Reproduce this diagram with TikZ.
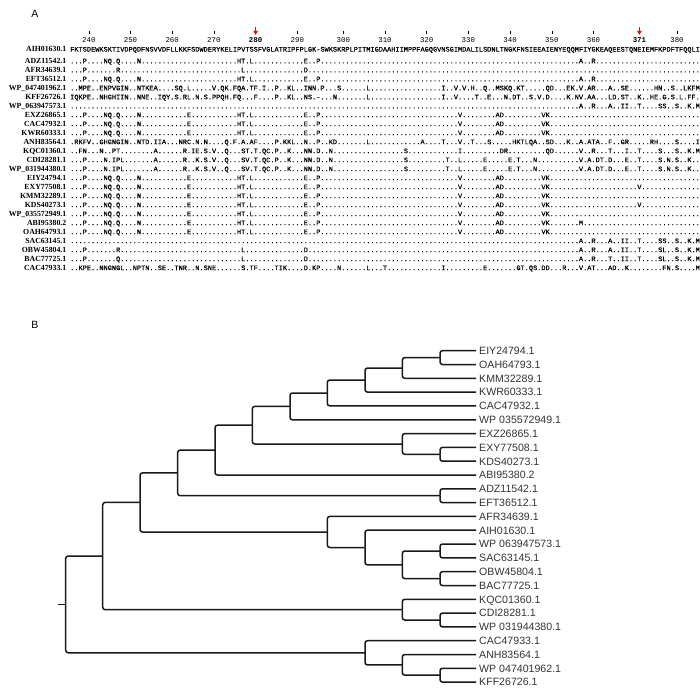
\documentclass[tikz,border=0pt]{standalone}
\usepackage{fontspec}
\setmainfont{Liberation Serif}
\setsansfont{Liberation Sans}
\setmonofont{Liberation Mono}
\newfontfamily\seqfont{Liberation Mono}[FakeBold=0.4]
\usetikzlibrary{arrows.meta}
\newcommand{\dten}{..........}

\begin{document}
\begin{tikzpicture}[x=1pt, y=-1pt,
  panel/.style={font=\fontsize{10.5}{12}\selectfont\sffamily},
  seqname/.style={anchor=base east, inner sep=0pt, font=\fontsize{7.8}{8}\selectfont\bfseries},
  seqrow/.style={anchor=base west, inner sep=0pt, font=\fontsize{6.95}{7}\selectfont\seqfont},
  posnum/.style={anchor=base, inner sep=0pt, font=\fontsize{7.4}{8}\selectfont\ttfamily},
  boldnum/.style={anchor=base, inner sep=0pt, font=\fontsize{7.4}{8}\selectfont\ttfamily\bfseries},
  postick/.style={line width=0.5pt},
  hitmark/.style={red, line width=0.9pt, -{Triangle[width=4.5pt,length=4pt]}},
  branch/.style={line width=1.5pt, black!90, rounded corners=2.5pt},
  leaf/.style={anchor=west, inner xsep=3pt, inner ysep=0pt, text height=7.6pt, text depth=0pt,
    font=\fontsize{10.6}{11}\selectfont\sffamily, text=black!80},
]
\useasboundingbox (0,0) rectangle (700,696);

% panel A: alignment
\node[panel] (pa) at (35,13.5) {A};

\foreach \c/\n in {88.8/240, 130.5/250, 172.2/260, 213.9/270, 297.3/290, 343.3/300, 385.0/310,
                   426.7/320, 468.4/330, 510.1/340, 551.8/350, 593.5/360, 677.0/380} {
  \node[posnum] (p\n) at (\c,42.5) {\n};
  \draw[postick] (p\n.north) ++(0,-3) -- ++(0,-3.5);
}
\node[boldnum] (p280) at (255.6,42.5) {280};
\node[boldnum] (p371) at (639.4,42.5) {371};
\draw[hitmark] (p280.north) ++(0,-10.5) -- ++(0,8);
\draw[hitmark] (p371.north) ++(0,-10.5) -- ++(0,8);

\node[seqname] (nAIH) at (66.5,51.6) {AIH01630.1};
\node[seqrow] (sAIH) at (70,51.6) {FKTSDEWKSKTIVDPQDFNSVVDFLLKKFSDWDERYKELIPVTSSFVGLATRIPFPLGK-SWKSKRPLPITMIGDAAHIIMPPFAGQGVNSGIMDALILSDNLTNGKFNSIEEAIENYEQQMFIYGKEAQEESTQNEIEMFKPDFTFQQLI};

\node[seqname] (nADZ) at (66.5,63.3) {ADZ11542.1};
\node[seqrow] (sADZ) at (70,63.3) {{...P....NQ}{.Q....N...}\dten\dten{HT.L......}{......E..P}\dten\dten\dten\dten\dten\dten{..A..R....}\dten\dten{.}};
\node[seqname] (nAFR) at (66.5,72.3) {AFR34639.1};
\node[seqrow] (sAFR) at (70,72.3) {{...P......}{.R........}\dten\dten{.L........}{......D...}\dten\dten\dten\dten\dten\dten\dten\dten\dten{.}};
\node[seqname] (nEFT) at (66.5,81.3) {EFT36512.1};
\node[seqrow] (sEFT) at (70,81.3) {{...P....NQ}{.Q....N...}\dten\dten{HT.L......}{......E..P}\dten\dten\dten\dten\dten\dten{..A..R....}\dten\dten{.}};
\node[seqname] (nWPa) at (66.5,90.3) {WP\_047401962.1};
\node[seqrow] (sWPa) at (70,90.3) {{..MPE..ENP}{VGIN..NTKE}{A....SQ.L.}{....V.QK.F}{QA.TF.I..P}{..KL..INN.}{P...S.....}{.L........}{.........I}{..V.V.H..Q}{..MSKQ.KT.}{....QD...E}{K.V.AR...A}{..SE......}{HN..S..LKF}{M}};
\node[seqname] (nKFF) at (66.5,99.3) {KFF26726.1};
\node[seqrow] (sKFF) at (70,99.3) {{IQKPE..NHG}{HIIN..NNE.}{.IQY.S.RL.}{N.S.PPQH.F}{Q...F....P}{..KL..NS.-}{...N......}{.L........}{.........I}{..V....T..}{E...N.DT..}{S.V.D....K}{.NV.AA...L}{D.ST..K..H}{E.G.S.L.FF}{.}};
\node[seqname] (nWPb) at (66.5,108.3) {WP\_063947573.1};
\node[seqrow] (sWPb) at (70,108.3) {\dten\dten\dten\dten\dten\dten\dten\dten\dten\dten\dten\dten{..A..R...A}{..II..T...}{.SS..S..K.}{M}};
\node[seqname] (nEXZ) at (66.5,117.2) {EXZ26865.1};
\node[seqrow] (sEXZ) at (70,117.2) {{...P....NQ}{.Q....N...}{........E.}\dten{HT.L......}{......E..P}\dten\dten\dten{...V......}{..AD......}{...VK.....}\dten\dten\dten{.}};
\node[seqname] (nCACa) at (66.5,126.2) {CAC47932.1};
\node[seqrow] (sCACa) at (70,126.2) {{...P....NQ}{.Q....N...}{........E.}\dten{HT.L......}{......E..P}\dten\dten\dten{...V......}{..AD......}{...VK.....}\dten\dten\dten{.}};
\node[seqname] (nKWR) at (66.5,135.2) {KWR60333.1};
\node[seqrow] (sKWR) at (70,135.2) {{...P....NQ}{.Q....N...}{........E.}\dten{HT.L......}{......E..P}\dten\dten\dten{...V......}{..AD......}{...VK.....}\dten\dten\dten{.}};
\node[seqname] (nANH) at (66.5,144.2) {ANH83564.1};
\node[seqrow] (sANH) at (70,144.2) {{.RKFV..GHG}{NGIN..NTD.}{IIA...NRC.}{N.N....Q.F}{.A.AF....P}{.KKL..N..P}{..KD......}{.L........}{....A....T}{...V..T...}{S.....HKTL}{QA..SD...K}{..A.ATA..F}{..GR.....R}{H....S....}{I}};
\node[seqname] (nKQC) at (66.5,153.2) {KQC01360.1};
\node[seqrow] (sKQC) at (70,153.2) {{..FN...N..}{PT........}{A......R.I}{E.S.V..Q..}{.ST.T.QC.P}{..K...NN.D}{..N.......}\dten{S.........}{...I......}{...DR.....}{....QD....}{..V..R...T}{...I..T...}{.S...S..K.}{M}};
\node[seqname] (nCDI) at (66.5,162.2) {CDI28281.1};
\node[seqrow] (sCDI) at (70,162.2) {{...P....N.}{IPL.......}{A......R..}{K.S.V..Q..}{.SV.T.QC.P}{..K...NN.D}{..N.......}\dten{S.........}{T..L.....E}{.....E.T..}{.N........}{..V.A.DT.D}{...E..T...}{.S.N.S..K.}{.}};
\node[seqname] (nWPc) at (66.5,171.2) {WP\_031944380.1};
\node[seqrow] (sWPc) at (70,171.2) {{...P....N.}{IPL.......}{A......R..}{K.S.V..Q..}{.SV.T.QC.P}{..K...NN.D}{..N.......}\dten{S.........}{T..L.....E}{.....E.T..}{.N........}{..V.A.DT.D}{...E..T...}{.S.N.S..K.}{.}};
\node[seqname] (nEIY) at (66.5,180.2) {EIY24794.1};
\node[seqrow] (sEIY) at (70,180.2) {{...P....NQ}{.Q....N...}{........E.}\dten{HT.L......}{......E..P}\dten\dten\dten{...V......}{..AD......}{...VK.....}\dten\dten\dten{.}};
\node[seqname] (nEXY) at (66.5,189.2) {EXY77508.1};
\node[seqrow] (sEXY) at (70,189.2) {{...P....NQ}{.Q....N...}{........E.}\dten{HT.L......}{......E..P}\dten\dten\dten{...V......}{..AD......}{...VK.....}\dten{......V...}\dten{.}};
\node[seqname] (nKMM) at (66.5,198.1) {KMM32289.1};
\node[seqrow] (sKMM) at (70,198.1) {{...P....NQ}{.Q....N...}{........E.}\dten{HT.L......}{......E..P}\dten\dten\dten{...V......}{..AD......}{...VK.....}\dten\dten\dten{.}};
\node[seqname] (nKDS) at (66.5,207.1) {KDS40273.1};
\node[seqrow] (sKDS) at (70,207.1) {{...P....NQ}{.Q....N...}{........E.}\dten{HT.L......}{......E..P}\dten\dten\dten{...V......}{..AD......}{...VK.....}\dten{......V...}\dten{.}};
\node[seqname] (nWPd) at (66.5,216.1) {WP\_035572949.1};
\node[seqrow] (sWPd) at (70,216.1) {{...P....NQ}{.Q....N...}{........E.}\dten{HT.L......}{......E..P}\dten\dten\dten{...V......}{..AD......}{...VK.....}\dten\dten\dten{.}};
\node[seqname] (nABI) at (66.5,225.1) {ABI95380.2};
\node[seqrow] (sABI) at (70,225.1) {{...P....NQ}{.Q....N...}{........E.}\dten{HT.L......}{......E..P}\dten\dten\dten{...V......}{..AD......}{...VK.....}{..M.......}\dten\dten{.}};
\node[seqname] (nOAH) at (66.5,234.1) {OAH64793.1};
\node[seqrow] (sOAH) at (70,234.1) {{...P....NQ}{.Q....N...}{........E.}\dten{HT.L......}{......E..P}\dten\dten\dten{...V......}{..AD......}{...VK.....}\dten\dten\dten{.}};
\node[seqname] (nSAC) at (66.5,243.1) {SAC63145.1};
\node[seqrow] (sSAC) at (70,243.1) {\dten\dten\dten\dten\dten\dten\dten\dten\dten\dten\dten\dten{..A..R...A}{..II..T...}{.SS..S..K.}{M}};
\node[seqname] (nOBW) at (66.5,252.1) {OBW45804.1};
\node[seqrow] (sOBW) at (70,252.1) {{...P......}{.R........}\dten\dten{.L........}{......D...}\dten\dten\dten\dten\dten\dten{..A..R...A}{..II..T...}{.SL..S..K.}{M}};
\node[seqname] (nBAC) at (66.5,261.1) {BAC77725.1};
\node[seqrow] (sBAC) at (70,261.1) {{...P......}{.Q........}\dten\dten{.L........}{......D...}\dten\dten\dten\dten\dten\dten{..A..R...T}{..II..T...}{.SL..S..K.}{M}};
\node[seqname] (nCACb) at (66.5,270.1) {CAC47933.1};
\node[seqrow] (sCACb) at (70,270.1) {{..KPE..NNG}{NGL..NPTN.}{.SE..TNR..}{N.SNE.....}{.S.TF....T}{IK....D.KP}{....N.....}{.L...T....}{.........I}{.........E}{.......GT.}{QS.DD...R.}{..V.AT...A}{D..K......}{..FN.S....}{M}};

% panel B: tree
\node[panel] (pb) at (35,325) {B};

\node[leaf] (lEIY) at (476,350.7) {EIY24794.1};
\node[leaf] (lOAH) at (476,364.5) {OAH64793.1};
\node[leaf] (lKMM) at (476,378.3) {KMM32289.1};
\node[leaf] (lKWR) at (476,392.1) {KWR60333.1};
\node[leaf] (lCACa) at (476,405.9) {CAC47932.1};
\node[leaf] (lWPd) at (476,419.8) {WP 035572949.1};
\node[leaf] (lEXZ) at (476,433.6) {EXZ26865.1};
\node[leaf] (lEXY) at (476,447.4) {EXY77508.1};
\node[leaf] (lKDS) at (476,461.2) {KDS40273.1};
\node[leaf] (lABI) at (476,475.0) {ABI95380.2};
\node[leaf] (lADZ) at (476,488.8) {ADZ11542.1};
\node[leaf] (lEFT) at (476,502.6) {EFT36512.1};
\node[leaf] (lAFR) at (476,516.4) {AFR34639.1};
\node[leaf] (lAIH) at (476,530.2) {AIH01630.1};
\node[leaf] (lWPb) at (476,544.0) {WP 063947573.1};
\node[leaf] (lSAC) at (476,557.9) {SAC63145.1};
\node[leaf] (lOBW) at (476,571.7) {OBW45804.1};
\node[leaf] (lBAC) at (476,585.5) {BAC77725.1};
\node[leaf] (lKQC) at (476,599.3) {KQC01360.1};
\node[leaf] (lCDI) at (476,613.1) {CDI28281.1};
\node[leaf] (lWPc) at (476,626.9) {WP 031944380.1};
\node[leaf] (lCACb) at (476,640.7) {CAC47933.1};
\node[leaf] (lANH) at (476,654.5) {ANH83564.1};
\node[leaf] (lWPa) at (476,668.3) {WP 047401962.1};
\node[leaf] (lKFF) at (476,682.1) {KFF26726.1};

\coordinate (stub) at (58,604.4);
\coordinate (root) at (65.7,604.4);
\coordinate (c1) at (102.7,556.0);
\coordinate (c2) at (140,502.4);
\coordinate (c3) at (177.7,472.9);
\coordinate (c4) at (215,450.1);
\coordinate (c5) at (252.3,425.2);
\coordinate (c6) at (290,406.4);
\coordinate (c7) at (327.3,393.0);
\coordinate (c8) at (365,380.0);
\coordinate (c9) at (402.3,368.0);
\coordinate (c10) at (440,357.6);
\coordinate (d1) at (402.3,444.0);
\coordinate (d2) at (440,454.3);
\coordinate (d3) at (440,495.7);
\coordinate (e1) at (327.3,532.0);
\coordinate (e2) at (365,547.5);
\coordinate (e3) at (402.3,564.8);
\coordinate (e4) at (440,551.0);
\coordinate (e5) at (440,578.6);
\coordinate (f1) at (402.3,609.7);
\coordinate (f2) at (440,620.0);
\coordinate (g1) at (365,652.8);
\coordinate (g2) at (402.3,664.9);
\coordinate (g3) at (440,675.2);

\draw[branch] (stub) -- (root);
\foreach \a/\b in {root/c1, root/g1, c1/c2, c1/f1, c2/c3, c2/e1, c3/c4, c3/d3,
                   c4/c5, c4/lABI, c5/c6, c5/d1, c6/c7, c6/lWPd, c7/c8, c7/lCACa,
                   c8/c9, c8/lKWR, c9/c10, c9/lKMM, c10/lEIY, c10/lOAH,
                   d1/lEXZ, d1/d2, d2/lEXY, d2/lKDS, d3/lADZ, d3/lEFT,
                   e1/lAFR, e1/e2, e2/lAIH, e2/e3, e3/e4, e3/e5, e4/lWPb, e4/lSAC,
                   e5/lOBW, e5/lBAC, f1/lKQC, f1/f2, f2/lCDI, f2/lWPc,
                   g1/lCACb, g1/g2, g2/lANH, g2/g3, g3/lWPa, g3/lKFF}
  \draw[branch] (\a) |- (\b);

\end{tikzpicture}
\end{document}
